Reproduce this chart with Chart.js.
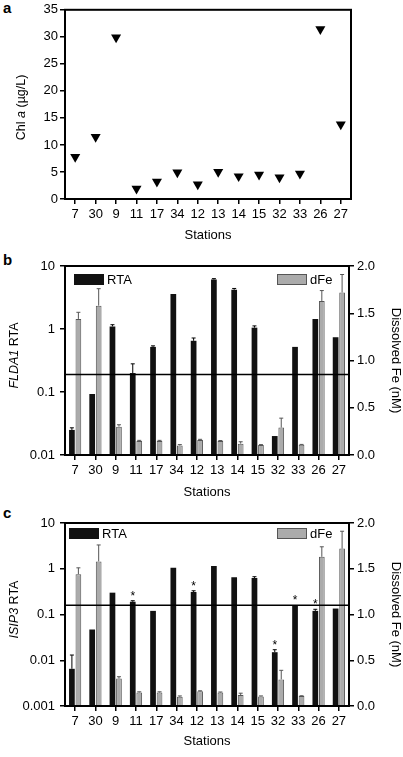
<!DOCTYPE html>
<html>
<head>
<meta charset="utf-8">
<script src="https://cdn.jsdelivr.net/npm/chart.js"></script>
<style>
  body { margin: 0; background: #fff; font-family: "Liberation Sans", Arial, sans-serif; }
  #page { position: relative; width: 403px; height: 757px; overflow: hidden; }
  .panel { position: absolute; left: 0; }
  .tag { position: absolute; left: 3px; font-weight: bold; font-size: 15px; line-height: 15px; }
</style>
</head>
<body>
<div id="page">
  <div class="tag" style="top:0px">a</div>
  <div class="tag" style="top:252px">b</div>
  <div class="tag" style="top:505px">c</div>
  <canvas class="panel" id="chartA" width="403" height="250" style="top:0px"></canvas>
  <canvas class="panel" id="chartB" width="403" height="255" style="top:250px"></canvas>
  <canvas class="panel" id="chartC" width="403" height="252" style="top:505px"></canvas>
</div>
<script>
const stations = ['7', '30', '9', '11', '17', '34', '12', '13', '14', '15', '32', '33', '26', '27']

// panel a
const chlA = [7.8, 11.5, 29.9, 1.9, 3.2, 4.9, 2.7, 5.0, 4.2, 4.5, 4.0, 4.7, 31.4, 13.8]

// panel b
const fldaRta = [0.025, 0.093, 1.1, 0.2, 0.52, 3.6, 0.65, 6.1, 4.2, 1.05, 0.02, 0.52, 1.44, 0.74]
const fldaRtaErr = [0.027, null, 1.17, 0.28, 0.54, null, 0.72, 6.3, 4.4, 1.12, null, null, null, null]
const fldaTicks = [0.01, 0.1, 1, 10]
const fldaThreshold = 0.19

// panel c
const isipRta = [0.0065, 0.047, 0.3, 0.19, 0.12, 1.05, 0.31, 1.15, 0.65, 0.63, 0.015, 0.16, 0.12, 0.135]
const isipRtaErr = [0.013, null, null, 0.2, null, null, 0.33, null, null, 0.67, 0.017, null, 0.13, null]
const isipTicks = [0.001, 0.01, 0.1, 1, 10]
const isipThreshold = 0.16
const isipStars = ['11', '12', '32', '33', '26']

// dissolved Fe, same in b and c
const dFe = [1.44, 1.58, 0.3, 0.148, 0.148, 0.1, 0.16, 0.148, 0.12, 0.105, 0.29, 0.108, 1.63, 1.72]
const dFeErr = [1.51, 1.76, 0.32, 0.155, 0.155, 0.11, 0.166, 0.153, 0.14, 0.11, 0.39, 0.112, 1.74, 1.91]

const FONT = '"Liberation Sans", Arial, sans-serif'
const tickFont = { family: FONT, size: 13 }

// frame, threshold, error bars, stars, inner legend and mixed-style y title
const panelExtras = {
  id: 'panelExtras',
  afterDraw(chart, args, opts) {
    const { ctx, chartArea: a } = chart
    ctx.save()

    if (opts.threshold) {
      const y = chart.scales.y.getPixelForValue(opts.threshold)
      ctx.strokeStyle = '#000'
      ctx.lineWidth = 1.5
      ctx.beginPath()
      ctx.moveTo(a.left, y)
      ctx.lineTo(a.right, y)
      ctx.stroke()
    }

    (opts.errors || []).forEach((errs, di) => {
      const meta = chart.getDatasetMeta(di)
      const scale = chart.scales[meta.yAxisID]
      ctx.strokeStyle = di === 0 ? '#000' : '#555'
      ctx.lineWidth = 1
      errs.forEach((e, i) => {
        if (e == null) return
        const bar = meta.data[i]
        const yTop = scale.getPixelForValue(e)
        ctx.beginPath()
        ctx.moveTo(bar.x, bar.y)
        ctx.lineTo(bar.x, yTop)
        ctx.moveTo(bar.x - 2, yTop)
        ctx.lineTo(bar.x + 2, yTop)
        ctx.stroke()
      })
    })

    if (opts.stars) {
      const meta = chart.getDatasetMeta(0)
      const errs = opts.errors ? opts.errors[0] : []
      ctx.fillStyle = '#000'
      ctx.font = `12px ${FONT}`
      ctx.textAlign = 'center'
      ctx.textBaseline = 'alphabetic'
      opts.stars.forEach(s => {
        const i = chart.data.labels.indexOf(s)
        const bar = meta.data[i]
        const top = errs[i] != null ? chart.scales.y.getPixelForValue(errs[i]) : bar.y
        ctx.fillText('*', bar.x, top - 1)
      })
    }

    if (opts.legend) {
      const lg = opts.legend
      ctx.font = `13px ${FONT}`
      ctx.textBaseline = 'middle'
      ctx.textAlign = 'left'
      chart.data.datasets.forEach((ds, di) => {
        const x = di === 0 ? a.left + lg.left : a.right - lg.right
        const y = a.top + lg.top
        ctx.fillStyle = ds.backgroundColor
        ctx.fillRect(x, y, 30, 11)
        if (ds.borderWidth) {
          ctx.strokeStyle = ds.borderColor
          ctx.lineWidth = 1
          ctx.strokeRect(x + 0.5, y + 0.5, 29, 10)
        }
        ctx.fillStyle = '#000'
        ctx.fillText(ds.label, x + 33, y + 6)
      })
    }

    ctx.strokeStyle = '#000'
    ctx.lineWidth = 2
    ctx.strokeRect(a.left, a.top, a.right - a.left, a.bottom - a.top)

    if (opts.yTitle) {
      const t = opts.yTitle
      const fontOf = it => `${it ? 'italic ' : ''}${t.size}px ${FONT}`
      let total = 0
      t.parts.forEach(([txt, it]) => { ctx.font = fontOf(it); total += ctx.measureText(txt).width })
      ctx.translate(t.x, (a.top + a.bottom) / 2 + (t.dy || 0))
      ctx.rotate(-Math.PI / 2)
      ctx.fillStyle = '#000'
      ctx.textAlign = 'left'
      ctx.textBaseline = 'middle'
      let x = -total / 2
      t.parts.forEach(([txt, it]) => {
        ctx.font = fontOf(it)
        ctx.fillText(txt, x, 0)
        x += ctx.measureText(txt).width
      })
    }
    ctx.restore()
  }
}

const tickGrid = { drawOnChartArea: false, offset: false, tickLength: 5, lineWidth: 1.5, color: '#000' }

function xAxis(height) {
  return {
    offset: true,
    grid: tickGrid,
    border: { display: false },
    ticks: { color: '#000', font: tickFont, padding: 3, maxRotation: 0, autoSkip: false },
    title: { display: true, text: 'Stations', color: '#000', font: tickFont, padding: 0 },
    afterFit: s => { s.height = height }
  }
}

new Chart(document.getElementById('chartA'), {
  type: 'line',
  data: {
    labels: stations,
    datasets: [{
      data: chlA,
      showLine: false,
      pointStyle: 'triangle',
      rotation: 180,
      pointRadius: 5.8,
      pointHoverRadius: 5.8,
      backgroundColor: '#000',
      borderColor: '#000',
      borderWidth: 0
    }]
  },
  options: {
    responsive: false,
    animation: false,
    events: [],
    layout: { padding: { top: 9, right: 52, bottom: 7, left: 0 } },
    plugins: {
      legend: { display: false },
      tooltip: { enabled: false },
      panelExtras: { yTitle: { x: 22, dy: 3, size: 12.5, parts: [['Chl ', false], ['a', true], [' (µg/L)', false]] } }
    },
    scales: {
      x: xAxis(44),
      y: {
        min: 0,
        max: 35,
        grid: tickGrid,
        border: { display: false },
        ticks: { stepSize: 5, color: '#000', font: tickFont, padding: 2 },
        afterFit: s => { s.width = 65 }
      }
    }
  },
  plugins: [panelExtras]
})

function barPanel(id, rta, rtaErr, ticks, threshold, stars, titleParts, pad, xHeight, legendPos) {
  return new Chart(document.getElementById(id), {
    type: 'bar',
    data: {
      labels: stations,
      datasets: [
        { label: 'RTA', data: rta, yAxisID: 'y', backgroundColor: '#111', borderWidth: 0, categoryPercentage: 0.64, barPercentage: 0.88 },
        { label: 'dFe', data: dFe, yAxisID: 'y1', backgroundColor: '#ababab', borderColor: '#555', borderWidth: 1, categoryPercentage: 0.64, barPercentage: 0.88 }
      ]
    },
    options: {
      responsive: false,
      animation: false,
      events: [],
      layout: { padding: pad },
      plugins: {
        legend: { display: false },
        tooltip: { enabled: false },
        panelExtras: {
          threshold: threshold,
          errors: [rtaErr, dFeErr],
          stars: stars,
          legend: legendPos,
          yTitle: { x: 15, dy: -5, size: 12.5, parts: titleParts }
        }
      },
      scales: {
        x: xAxis(xHeight),
        y: {
          type: 'logarithmic',
          position: 'left',
          min: ticks[0],
          max: ticks[ticks.length - 1],
          afterBuildTicks: s => { s.ticks = ticks.map(v => ({ value: v })) },
          grid: tickGrid,
          border: { display: false },
          ticks: { color: '#000', font: tickFont, padding: 5, callback: v => String(v) },
          afterFit: s => { s.width = 65 }
        },
        y1: {
          type: 'linear',
          position: 'right',
          min: 0,
          max: 2,
          grid: tickGrid,
          border: { display: false },
          ticks: { stepSize: 0.5, color: '#000', font: tickFont, padding: 3, callback: v => v.toFixed(1) },
          title: { display: true, text: 'Dissolved Fe (nM)', color: '#000', font: tickFont, padding: 0 },
          afterFit: s => { s.width = 54 }
        }
      }
    },
    plugins: [panelExtras]
  })
}

barPanel('chartB', fldaRta, fldaRtaErr, fldaTicks, fldaThreshold, null,
  [['FLDA1', true], [' RTA', false]],
  { top: 16, right: 0, bottom: 5, left: 0 }, 45, { left: 9, right: 72, top: 8 })

barPanel('chartC', isipRta, isipRtaErr, isipTicks, isipThreshold, isipStars,
  [['ISIP3', true], [' RTA', false]],
  { top: 18, right: 0, bottom: 8, left: 0 }, 43, { left: 4, right: 72, top: 5 })
</script>
</body>
</html>
